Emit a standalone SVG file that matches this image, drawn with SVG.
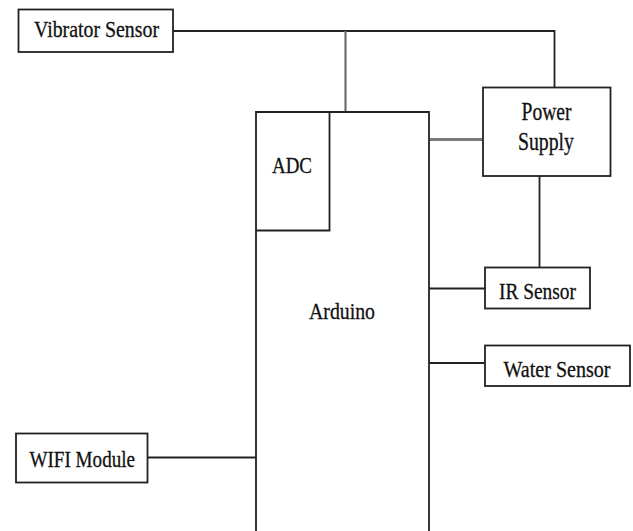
<svg xmlns="http://www.w3.org/2000/svg" width="633" height="531" viewBox="0 0 633 531">
<style>
.box{fill:#fff;stroke:#222;stroke-width:1.8}
.edge{fill:none;stroke:#222;stroke-width:1.8}
.gray{fill:none;stroke:#6e6e6e;stroke-width:2.2}
text{font-family:"Liberation Serif","Times New Roman",serif;font-size:24px;fill:#111;stroke:#111;stroke-width:0.3}
</style>
<rect width="633" height="531" fill="#fff"/>
<g id="connectors">
<path class="edge" d="M173,31 H554.5 V87.5"/>
<path class="gray" d="M345.5,31 V112"/>
<path class="gray" d="M429,139.5 H483" style="stroke-width:2.8;stroke:#7a7a7a"/>
<path class="edge" d="M539.5,176 V267.5"/>
<path class="edge" d="M429,288.5 H485"/>
<path class="edge" d="M429,363 H485"/>
<path class="edge" d="M147.5,457.5 H256"/>
</g>
<g id="arduino">
<path class="edge" d="M256,531 V112 H429 V531"/>
<text x="309" y="319" textLength="66" lengthAdjust="spacingAndGlyphs">Arduino</text>
</g>
<g id="adc">
<path class="edge" d="M329.5,112 V230.5 H256"/>
<text x="272" y="172.5" textLength="40" lengthAdjust="spacingAndGlyphs">ADC</text>
</g>
<g id="vibrator-sensor">
<rect class="box" x="18.5" y="9.5" width="154.5" height="42.5"/>
<text x="34" y="37" textLength="125" lengthAdjust="spacingAndGlyphs">Vibrator Sensor</text>
</g>
<g id="power-supply">
<rect class="box" x="483" y="87.5" width="127.5" height="88.5"/>
<text x="521.5" y="120" textLength="50" lengthAdjust="spacingAndGlyphs" style="font-size:25px">Power</text>
<text x="518" y="150" textLength="56" lengthAdjust="spacingAndGlyphs" style="font-size:25px">Supply</text>
</g>
<g id="ir-sensor">
<rect class="box" x="485" y="267.5" width="105" height="41"/>
<text x="499" y="299" textLength="77" lengthAdjust="spacingAndGlyphs">IR Sensor</text>
</g>
<g id="water-sensor">
<rect class="box" x="485" y="345.5" width="145" height="40.5"/>
<text x="503.5" y="377" textLength="107" lengthAdjust="spacingAndGlyphs">Water Sensor</text>
</g>
<g id="wifi-module">
<rect class="box" x="16" y="433.5" width="131.5" height="49"/>
<text x="29.5" y="467" textLength="105.5" lengthAdjust="spacingAndGlyphs">WIFI Module</text>
</g>
</svg>
